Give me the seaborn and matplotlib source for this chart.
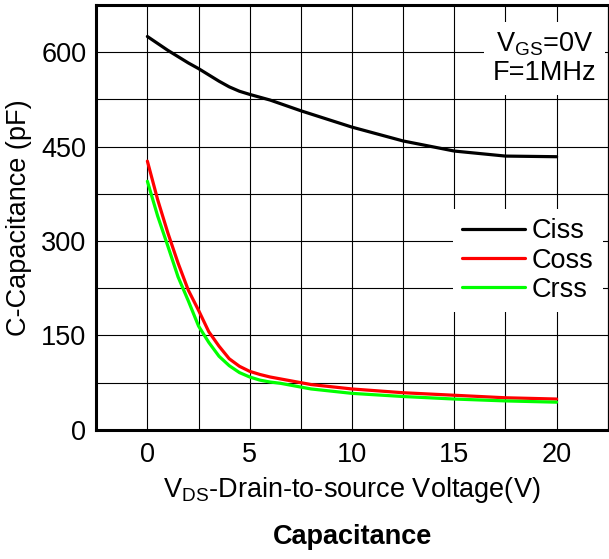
"""
Capacitance vs drain-to-source voltage (Ciss / Coss / Crss), datasheet style.
"""

import numpy as np
import pandas as pd
import matplotlib
matplotlib.use('Agg')
import matplotlib.pyplot as plt
import seaborn as sns

# values (pF)
ciss_v = [0, 0.5, 1, 1.5, 2, 2.5, 3, 3.5, 4, 4.5, 5, 6, 7.5, 10, 12.5, 15, 17.5, 20]
ciss_c = [625, 614, 603, 593, 583, 574, 564, 554, 545, 538, 533, 524, 507, 481, 459, 443, 435, 434]

coss_v = [0, 0.5, 1, 1.5, 2, 2.5, 3, 3.5, 4, 4.5, 5, 5.5, 6, 6.5, 7.5, 8, 10, 12.5, 15, 17.5, 20]
coss_c = [427, 366, 313, 265, 222, 190, 156, 133, 113, 101, 93, 88, 84, 81, 75, 72, 65, 59, 55, 51, 49]

crss_v = [0, 0.5, 1, 1.5, 2, 2.5, 3, 3.5, 4, 4.5, 5, 5.5, 6, 6.5, 7.5, 8, 10, 12.5, 15, 17.5, 20]
crss_c = [395, 340, 292, 243, 205, 165, 139, 117, 102, 91, 84, 79, 76, 74, 68, 65, 58, 53, 49, 46, 44]

SERIES = ['Ciss', 'Coss', 'Crss']
COLORS = {'Ciss': 'black', 'Coss': '#ff0000', 'Crss': '#00ff00'}

x_major = [0, 5, 10, 15, 20]
x_minor = [2.5, 7.5, 12.5, 17.5]
y_major = [0, 150, 300, 450, 600]
y_minor = [75, 225, 375, 525]

FS = 19.5

df = pd.concat([
    pd.DataFrame({'V': ciss_v, 'C': ciss_c, 'curve': 'Ciss'}),
    pd.DataFrame({'V': coss_v, 'C': coss_c, 'curve': 'Coss'}),
    pd.DataFrame({'V': crss_v, 'C': crss_c, 'curve': 'Crss'}),
], ignore_index=True)

sns.set_style('white')
plt.rcParams['font.family'] = ['Liberation Sans', 'DejaVu Sans']
plt.rcParams['mathtext.default'] = 'regular'
plt.rcParams['text.color'] = 'black'
plt.rcParams['axes.labelcolor'] = 'black'

fig = plt.figure(figsize=(6.09, 5.59), dpi=100)
ax = fig.add_axes([0.158, 0.231, 0.840, 0.760])

sns.lineplot(data=df, x='V', y='C', hue='curve', hue_order=SERIES,
             palette=COLORS, linewidth=2.3, ax=ax, zorder=3)

ax.set_xlim(-2.5, 22.5)
ax.set_ylim(0, 675)
ax.set_xticks(x_major)
ax.set_xticks(x_minor, minor=True)
ax.set_yticks(y_major)
ax.set_yticks(y_minor, minor=True)
ax.tick_params(which='both', length=0, labelsize=FS, colors='black')
ax.tick_params(axis='x', pad=9)
ax.tick_params(axis='y', pad=7)
ax.set_axisbelow(True)
ax.grid(True, which='both', color='black', linewidth=0.8)

for side in ['left', 'bottom', 'top']:
    ax.spines[side].set_linewidth(2.2)
    ax.spines[side].set_color('black')
ax.spines['right'].set_linewidth(0.9)
ax.spines['right'].set_color('black')

ax.set_ylabel('C-Capacitance (pF)', fontsize=FS, va='center', color='black')
ax.yaxis.set_label_coords(-0.150, 0.5)
ax.set_xlabel(r'$\mathregular{V_{DS}}$-Drain-to-source Voltage(V)', fontsize=FS,
              va='center', color='black')
ax.xaxis.set_label_coords(0.5, -0.141)

ax.text(0.5, -0.252, 'Capacitance', transform=ax.transAxes, ha='center',
        va='center', fontsize=FS, fontweight='bold', color='black')

ax.text(19.4, 590, '$\\mathregular{V_{GS}}$=0V\nF=1MHz', ha='center', va='center',
        fontsize=FS, linespacing=1.12, zorder=4, color='black',
        bbox=dict(facecolor='white', edgecolor='none', pad=6))

old = ax.get_legend()
handles = old.legend_handles
labels = [t.get_text() for t in old.get_texts()]
old.remove()
leg = ax.legend(handles, labels, loc='upper right', bbox_to_anchor=(0.99, 0.52),
                borderaxespad=0, fontsize=FS, handlelength=2.3, handletextpad=0.25,
                labelspacing=0.12, frameon=True, fancybox=False, framealpha=1,
                edgecolor='none', facecolor='white', borderpad=0.35)
for line in leg.get_lines():
    line.set_linewidth(2.3)
for t in leg.get_texts():
    t.set_color('black')

fig.savefig('out.png', dpi=100)
